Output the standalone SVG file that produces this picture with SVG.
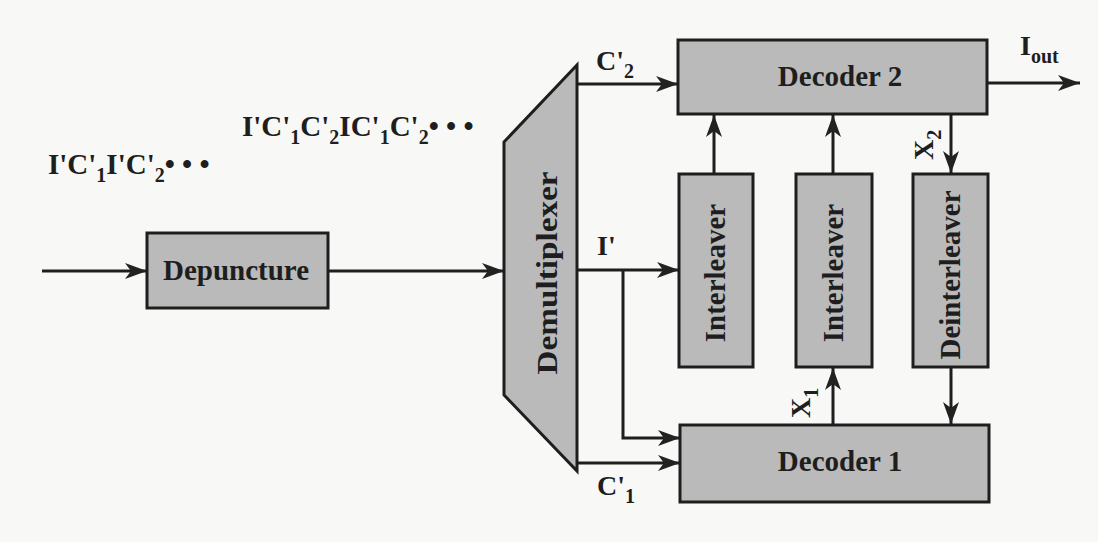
<svg xmlns="http://www.w3.org/2000/svg" width="1098" height="542" viewBox="0 0 1098 542">
<defs>
<marker id="ah" markerUnits="userSpaceOnUse" markerWidth="24" markerHeight="18" refX="22" refY="9" orient="auto">
<path d="M0,1 L22,9 L0,17 L6,9 z" fill="#222"/>
</marker>
<style>
.box{fill:#bababa;stroke:#1e1e1e;stroke-width:3}
.lbl{font-family:"Liberation Serif","Times New Roman",serif;font-weight:bold;font-size:29px;fill:#1e1e1e}
.sig{font-family:"Liberation Serif","Times New Roman",serif;font-weight:bold;font-size:28px;fill:#1e1e1e}
.str{font-family:"Liberation Serif","Times New Roman",serif;font-weight:bold;font-size:29px;fill:#1e1e1e}
.sub{font-size:20px}
.con{fill:none;stroke:#1e1e1e;stroke-width:3}
</style>
</defs>
<rect x="0" y="0" width="1098" height="542" fill="#f8f8f6"/>

<g id="stream-labels">
<text class="str" x="48" y="174">I'C'<tspan class="sub" dy="8">1</tspan><tspan dy="-8">I'C'</tspan><tspan class="sub" dy="8">2</tspan><tspan dy="-8">• • •</tspan></text>
<text class="str" x="242" y="136">I'C'<tspan class="sub" dy="8">1</tspan><tspan dy="-8">C'</tspan><tspan class="sub" dy="8">2</tspan><tspan dy="-8">IC'</tspan><tspan class="sub" dy="8">1</tspan><tspan dy="-8">C'</tspan><tspan class="sub" dy="8">2</tspan><tspan dy="-8">• • •</tspan></text>
</g>

<g id="depuncture">
<rect class="box" x="147" y="233" width="181" height="75"/>
<text class="lbl" x="236" y="280" text-anchor="middle">Depuncture</text>
</g>

<g id="demultiplexer">
<polygon class="box" points="504,142 577,65 577,471 504,395"/>
<text class="lbl" transform="translate(547,273) rotate(-90)" x="0" y="10" text-anchor="middle" font-size="30" textLength="203" lengthAdjust="spacingAndGlyphs">Demultiplexer</text>
</g>

<g id="decoder2">
<rect class="box" x="678" y="40" width="309" height="74"/>
<text class="lbl" x="840" y="86" text-anchor="middle">Decoder 2</text>
</g>

<g id="interleaver1">
<rect class="box" x="679" y="174" width="74" height="193"/>
<text class="lbl" transform="translate(716,273) rotate(-90)" x="0" y="9" text-anchor="middle" font-size="28">Interleaver</text>
</g>

<g id="interleaver2">
<rect class="box" x="796" y="174" width="76" height="193"/>
<text class="lbl" transform="translate(834,273) rotate(-90)" x="0" y="9" text-anchor="middle" font-size="28">Interleaver</text>
</g>

<g id="deinterleaver">
<rect class="box" x="913" y="174" width="75" height="193"/>
<text class="lbl" transform="translate(951,275) rotate(-90)" x="0" y="9" text-anchor="middle" font-size="28">Deinterleaver</text>
</g>

<g id="decoder1">
<rect class="box" x="680" y="425" width="309" height="77"/>
<text class="lbl" x="840" y="471" text-anchor="middle">Decoder 1</text>
</g>

<g id="connectors">
<line class="con" x1="42" y1="271" x2="147" y2="271" marker-end="url(#ah)"/>
<line class="con" x1="328" y1="271" x2="504" y2="271" marker-end="url(#ah)"/>
<line class="con" x1="577" y1="84" x2="678" y2="84" marker-end="url(#ah)"/>
<line class="con" x1="987" y1="83" x2="1080" y2="83" marker-end="url(#ah)"/>
<line class="con" x1="714" y1="174" x2="714" y2="115" marker-end="url(#ah)"/>
<line class="con" x1="833" y1="174" x2="833" y2="115" marker-end="url(#ah)"/>
<line class="con" x1="951" y1="114" x2="951" y2="173" marker-end="url(#ah)"/>
<line class="con" x1="951" y1="367" x2="951" y2="424" marker-end="url(#ah)"/>
<line class="con" x1="833" y1="425" x2="833" y2="368" marker-end="url(#ah)"/>
<line class="con" x1="577" y1="270" x2="679" y2="270" marker-end="url(#ah)"/>
<polyline class="con" points="623,270 623,438 680,438" marker-end="url(#ah)"/>
<line class="con" x1="577" y1="463" x2="680" y2="463" marker-end="url(#ah)"/>

<text class="sig" x="596" y="70">C'<tspan class="sub" dy="8">2</tspan></text>
<text class="sig" x="1020" y="55">I<tspan class="sub" dy="8">out</tspan></text>
<text class="sig" x="597" y="255">I'</text>
<text class="sig" x="597" y="495">C'<tspan class="sub" dy="8">1</tspan></text>
<text class="sig" transform="translate(933,160) rotate(-90)">X<tspan class="sub" dy="8">2</tspan></text>
<text class="sig" transform="translate(810,418) rotate(-90)">X<tspan class="sub" dy="8">1</tspan></text>
</g>
</svg>
